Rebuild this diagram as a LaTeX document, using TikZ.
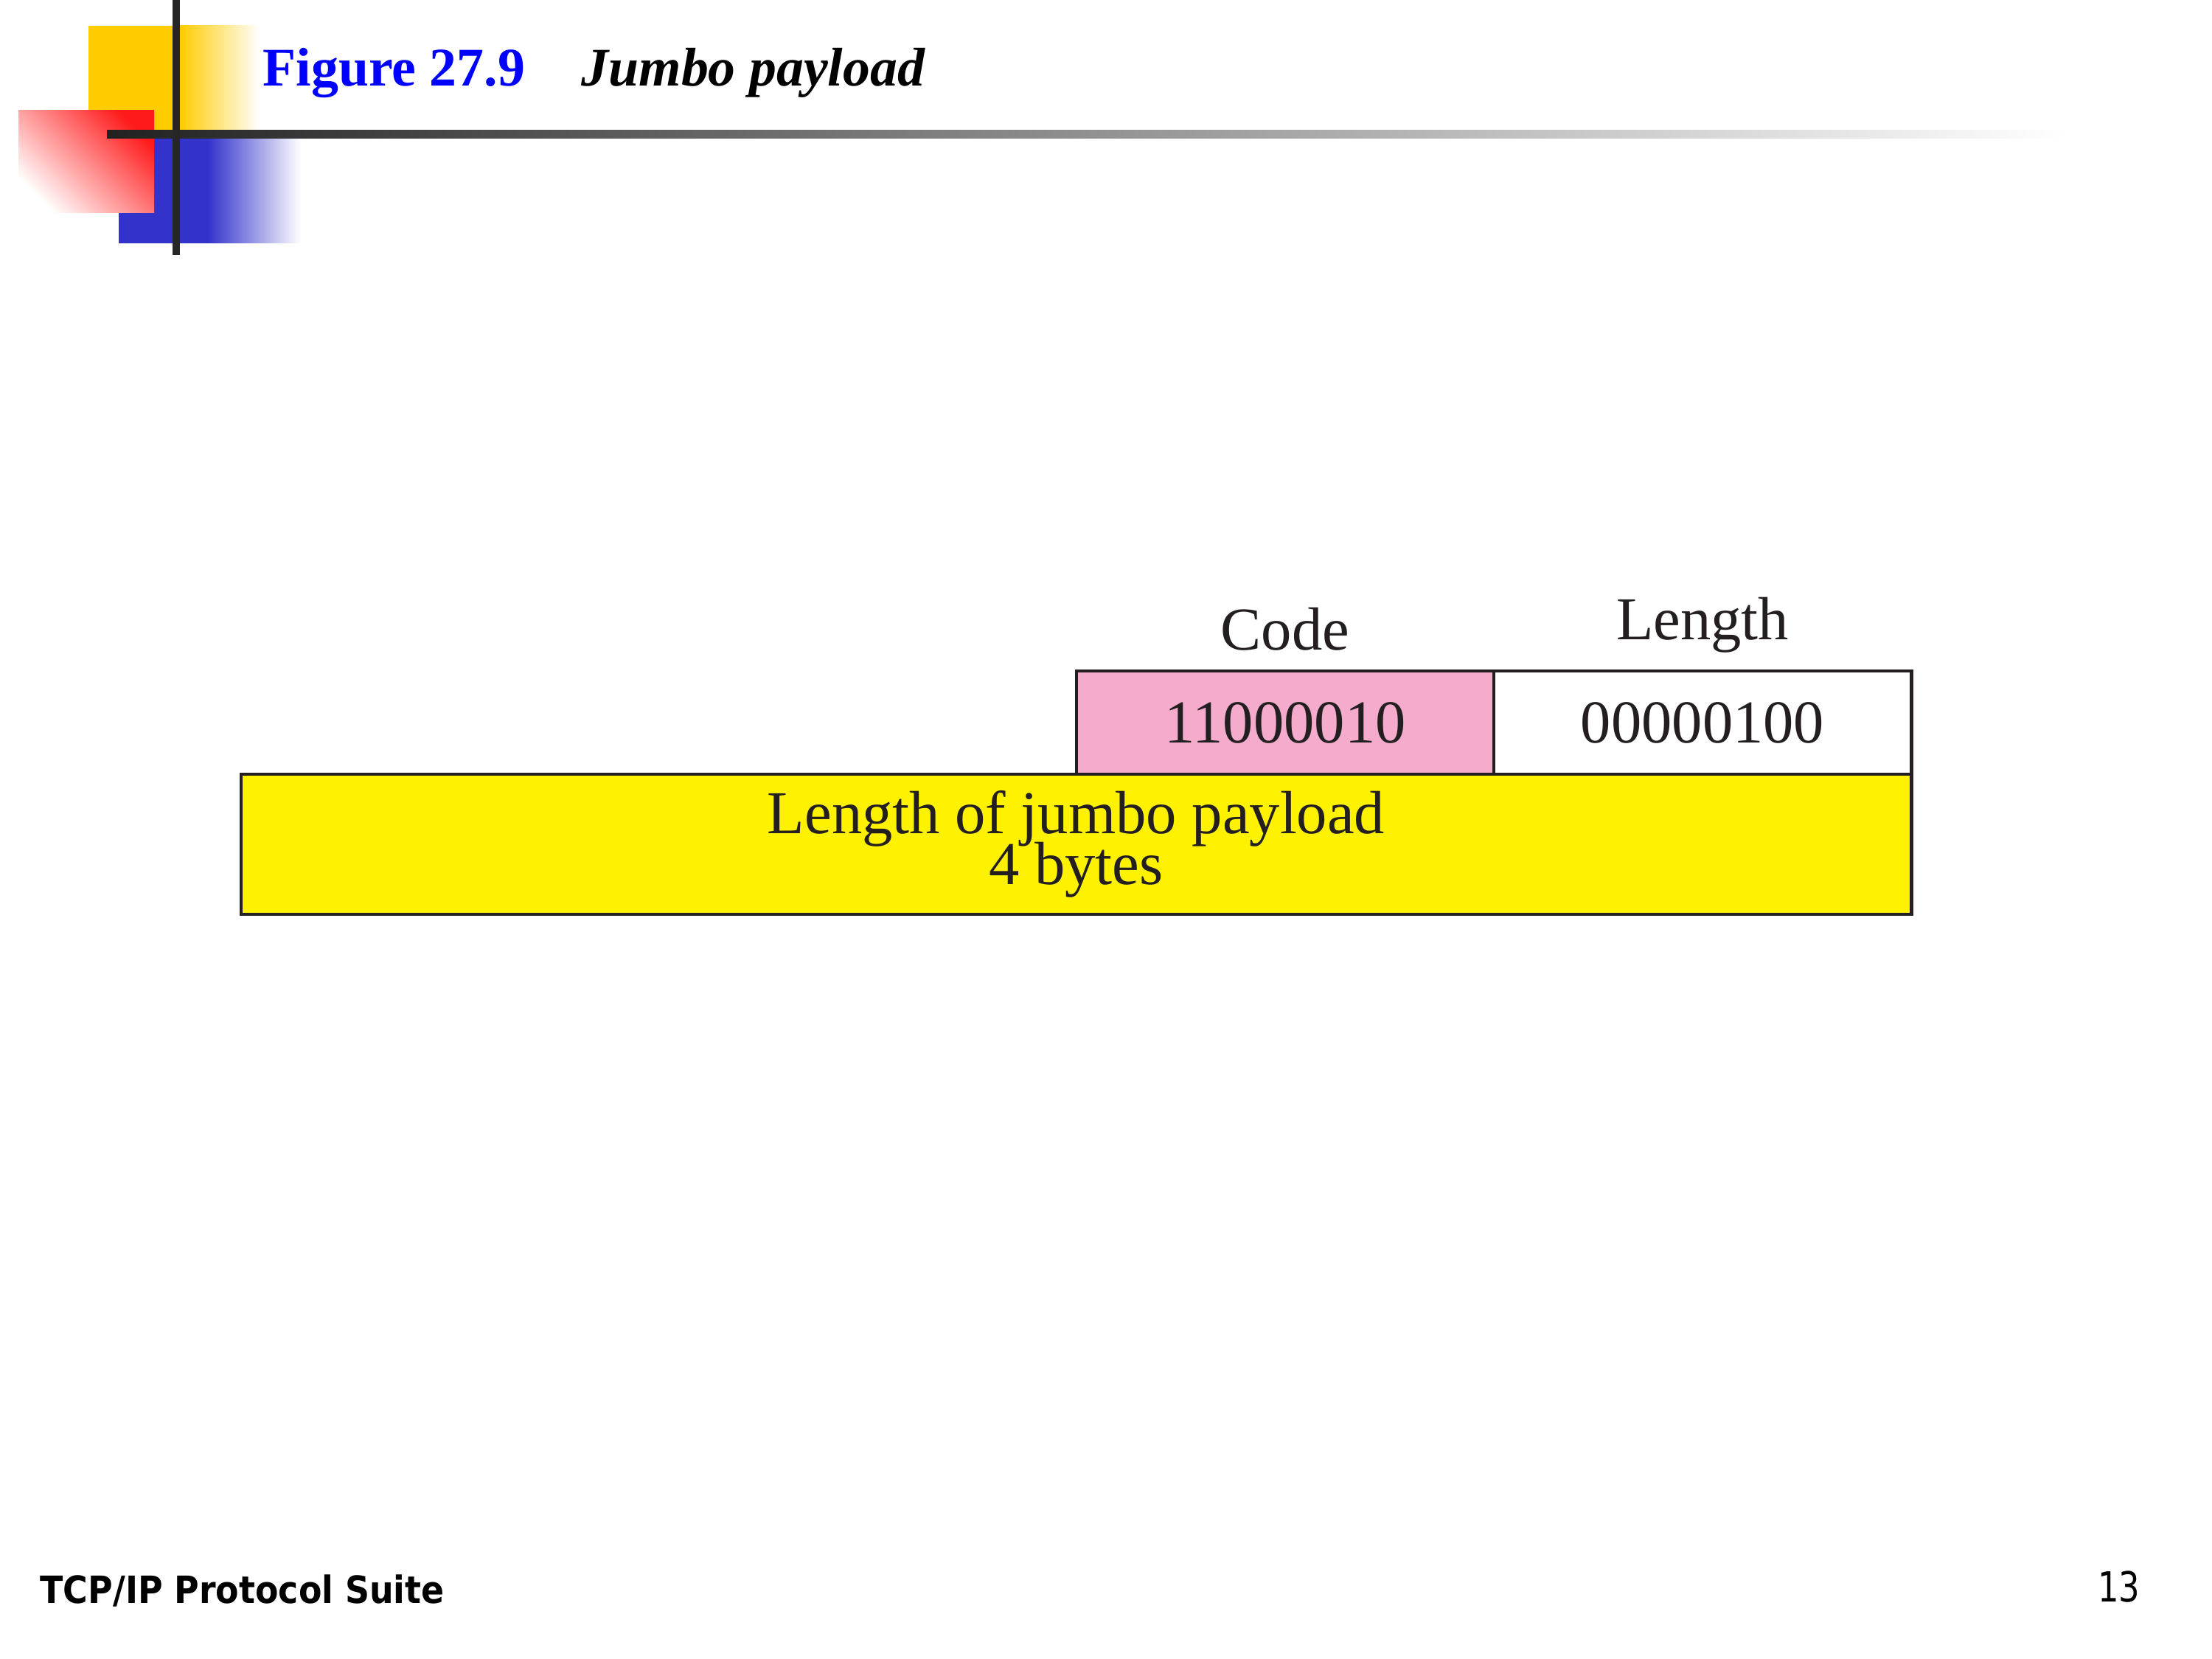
\documentclass[tikz,border=0pt]{standalone}
\usepackage{fontspec}
\setmainfont{Liberation Serif}
\newfontfamily\footfont[FakeStretch=0.9]{DejaVu Sans}
\newfontfamily\pagefont[FakeStretch=0.8]{DejaVu Sans}
\usetikzlibrary{positioning}
\setlength{\lineskiplimit}{-20pt}

\definecolor{logoyellow}{HTML}{FFCC00}
\definecolor{logored}{HTML}{FF1A1A}
\definecolor{logoblue}{HTML}{3333CC}
\definecolor{barline}{HTML}{262626}
\definecolor{codepink}{HTML}{F5ABCC}
\definecolor{payyellow}{HTML}{FFF200}
\definecolor{inkline}{HTML}{231F20}

\begin{document}
\begin{tikzpicture}[
    field/.style={draw=inkline, line width=1.4pt, inner sep=0pt, outer sep=0pt,
        minimum height=1.40cm, text=inkline,
        font=\fontsize{23.5}{19.6}\selectfont},
    lbl/.style={anchor=base, inner sep=0pt, text=inkline,
        font=\fontsize{23.5}{28}\selectfont}
]
    \useasboundingbox (0,0) rectangle (30,22.5);

    % 角上的方块
    \fill[logoyellow] (1.20,20.72) rectangle (2.44,22.15);
    \shade[left color=logoyellow, right color=white] (2.44,20.72) rectangle (3.52,22.15);
    \fill[logoblue] (1.61,19.20) rectangle (2.82,20.72);
    \shade[left color=logoblue, right color=white] (2.82,19.20) rectangle (4.08,20.72);
    \shade[top color=logored, bottom color=white, shading angle=-45] (0.25,19.61) rectangle (2.09,21.00);

    % 横线和竖线
    \shade[left color=black!87, middle color=black!30, right color=white] (1.45,20.62) rectangle (28.0,20.73);
    \fill[barline] (2.34,19.04) rectangle (2.44,22.5);

    % 标题
    \node[anchor=base west, inner sep=0pt, text=blue, font=\fontsize{21}{25}\selectfont\bfseries] (fignum) at (3.56,21.33) {Figure 27.9};
    \node[anchor=base west, inner sep=0pt, font=\fontsize{21}{25}\selectfont\bfseries\itshape] (figtitle) at (7.88,21.33) {Jumbo payload};

    % 字段
    \node[field, fill=codepink, minimum width=5.66cm] (code) at (17.43,12.70) {11000010};
    \node[field, fill=white, minimum width=5.66cm, right=0pt of code] (len) {00000100};
    \node[field, fill=payyellow, minimum width=22.65cm, minimum height=1.90cm, align=center, anchor=north east] (jumbo) at (len.south east) {Length of jumbo payload\\4 bytes};
    \node[lbl] (codelbl) at ([yshift=2.8mm]code.north) {Code};
    \node[lbl] (lenlbl) at ([yshift=4.2mm]len.north) {Length};

    % 页脚
    \node[anchor=base west, inner sep=0pt, font=\footfont\fontsize{14.5}{17}\selectfont\bfseries] (suite) at (0.54,0.75) {TCP/IP Protocol Suite};
    \node[anchor=base east, inner sep=0pt, font=\pagefont\fontsize{16}{19}\selectfont] (pagenum) at (29.03,0.77) {13};
\end{tikzpicture}
\end{document}
